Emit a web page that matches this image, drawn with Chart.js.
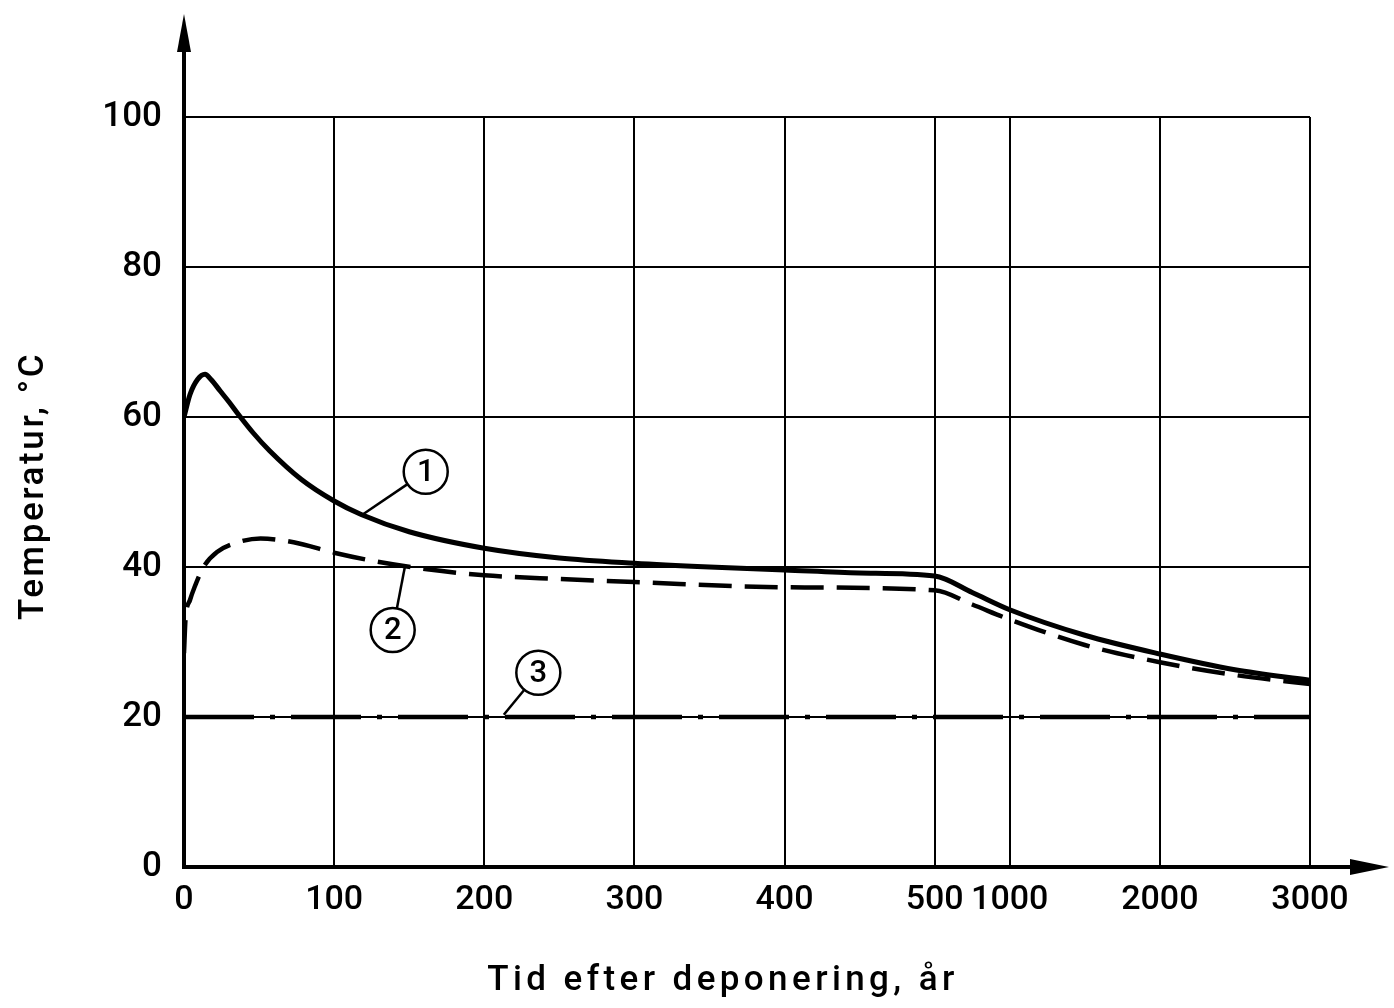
<!DOCTYPE html>
<html>
<head>
<meta charset="utf-8">
<script src="https://cdn.jsdelivr.net/npm/chart.js@4.4.0/dist/chart.umd.min.js"></script>
<style>
  html, body { margin: 0; padding: 0; background: #ffffff; }
  #wrap { width: 1394px; height: 1008px; }
</style>
</head>
<body>
<div id="wrap"><canvas id="c" width="1394" height="1008"></canvas></div>
<script>
// ---------------- data ----------------
const X_TICKS = [0, 100, 200, 300, 400, 500, 1000, 2000, 3000];
const Y_TICKS = [0, 20, 40, 60, 80, 100];

// Curve 1 (solid)
const years1 = [0, 4, 9, 14, 18, 24, 30, 36, 46, 57, 78, 100, 118, 150, 200, 250, 300, 350, 400, 450, 500, 750, 1000, 1500, 2000, 2500, 3000];
const temp1  = [60, 63.0, 65.0, 65.7, 65.0, 63.5, 62.0, 60.4, 57.9, 55.5, 51.7, 48.8, 47.0, 44.7, 42.5, 41.2, 40.5, 40.0, 39.6, 39.2, 38.8, 36.6, 34.3, 30.9, 28.4, 26.3, 24.9];

// Curve 2 (dashed)
const years2 = [0, 1, 4, 7, 13, 22, 36, 51, 73, 100, 129, 162, 200, 250, 300, 400, 500, 750, 1000, 1500, 2000, 2500, 3000];
const temp2  = [28.5, 33.0, 35.6, 37.3, 40.0, 42.0, 43.3, 43.8, 43.3, 41.9, 40.7, 39.7, 38.9, 38.4, 38.0, 37.3, 36.9, 35.0, 33.0, 29.6, 27.3, 25.6, 24.4];

// Curve 3 (dash-dot)
const years3 = [0, 3000];
const temp3  = [20, 20];

// Callout labels: circle centre and leader target, in data units (years, °C)
const CALLOUTS = [
  { text: '1', cx: 161, cy: 52.7, tx: 119, ty: 47.0 },
  { text: '2', cx: 139, cy: 31.6, tx: 147, ty: 39.9 },
  { text: '3', cx: 236, cy: 25.9, tx: 213, ty: 20.3 }
];

const X_TITLE = 'Tid efter deponering, år';
const Y_TITLE = 'Temperatur, °C';

// ---------------- broken x axis: 0–500 linear, above 500 compressed 10x ----------------
const BREAK_AT = 500, BREAK_FACTOR = 10;
function compress(t) { return t <= BREAK_AT ? t : BREAK_AT + (t - BREAK_AT) / BREAK_FACTOR; }
function expand(u) { return u <= BREAK_AT ? u : BREAK_AT + (u - BREAK_AT) * BREAK_FACTOR; }

class BrokenScale extends Chart.LinearScale {
  buildTicks() { return X_TICKS.map(v => ({ value: v })); }
  getPixelForValue(value) {
    return this.getPixelForDecimal(compress(value) / compress(this.max));
  }
  getValueForPixel(pixel) {
    return expand(this.getDecimalForPixel(pixel) * compress(this.max));
  }
}
BrokenScale.id = 'broken';
BrokenScale.defaults = Chart.LinearScale.defaults;
Chart.register(BrokenScale);

const toPoints = (xs, ys) => xs.map((x, i) => ({ x: x, y: ys[i] }));

const FONT = 'Roboto, "Liberation Sans", Arial, sans-serif';

// ---------------- decoration plugins ----------------
const axisArrows = {
  id: 'axisArrows',
  afterDraw(chart) {
    const { ctx, chartArea } = chart;
    ctx.save();
    ctx.strokeStyle = '#000';
    ctx.fillStyle = '#000';
    ctx.lineWidth = 4;
    ctx.lineCap = 'butt';
    ctx.beginPath();
    ctx.moveTo(chartArea.left, chartArea.top);
    ctx.lineTo(chartArea.left, 46);
    ctx.stroke();
    ctx.beginPath();
    ctx.moveTo(chartArea.left, 14);
    ctx.lineTo(chartArea.left - 7, 52);
    ctx.lineTo(chartArea.left + 7, 52);
    ctx.closePath();
    ctx.fill();
    ctx.beginPath();
    ctx.moveTo(chartArea.right, chartArea.bottom);
    ctx.lineTo(1356, chartArea.bottom);
    ctx.stroke();
    ctx.beginPath();
    ctx.moveTo(1389, chartArea.bottom);
    ctx.lineTo(1350, chartArea.bottom - 8);
    ctx.lineTo(1350, chartArea.bottom + 8);
    ctx.closePath();
    ctx.fill();
    ctx.restore();
  }
};

const callouts = {
  id: 'callouts',
  afterDatasetsDraw(chart) {
    const { ctx } = chart;
    const xs = chart.scales.x, ys = chart.scales.y;
    const R = 22;
    ctx.save();
    ctx.strokeStyle = '#000';
    ctx.fillStyle = '#000';
    ctx.lineWidth = 2.5;
    CALLOUTS.forEach(c => {
      const cx = xs.getPixelForValue(c.cx), cy = ys.getPixelForValue(c.cy);
      const tx = xs.getPixelForValue(c.tx), ty = ys.getPixelForValue(c.ty);
      const ang = Math.atan2(ty - cy, tx - cx);
      ctx.beginPath();
      ctx.arc(cx, cy, R, 0, Math.PI * 2);
      ctx.stroke();
      ctx.beginPath();
      ctx.moveTo(cx + R * Math.cos(ang), cy + R * Math.sin(ang));
      ctx.lineTo(tx, ty);
      ctx.stroke();
      ctx.font = '500 31px ' + FONT;
      ctx.textAlign = 'center';
      ctx.textBaseline = 'middle';
      ctx.fillText(c.text, cx, cy + 1);
    });
    ctx.restore();
  }
};

const axisTitles = {
  id: 'axisTitles',
  afterDraw(chart) {
    const { ctx } = chart;
    ctx.save();
    ctx.fillStyle = '#000';
    ctx.font = '500 35px ' + FONT;
    ctx.textAlign = 'center';
    ctx.textBaseline = 'alphabetic';
    ctx.letterSpacing = '4.4px';
    ctx.fillText(X_TITLE, 723, 990);
    ctx.letterSpacing = '2.6px';
    ctx.translate(43, 486);
    ctx.rotate(-Math.PI / 2);
    ctx.fillText(Y_TITLE, 0, 0);
    ctx.restore();
  }
};

new Chart(document.getElementById('c'), {
  type: 'line',
  data: {
    datasets: [
      {
        label: '1',
        data: toPoints(years1, temp1),
        borderColor: '#000',
        borderWidth: 5,
        pointRadius: 0,
        cubicInterpolationMode: 'monotone',
        fill: false
      },
      {
        label: '2',
        data: toPoints(years2, temp2),
        borderColor: '#000',
        borderWidth: 4.5,
        borderDash: [33, 13],
        pointRadius: 0,
        cubicInterpolationMode: 'monotone',
        fill: false
      },
      {
        label: '3',
        data: toPoints(years3, temp3),
        borderColor: '#000',
        borderWidth: 4.5,
        borderDash: [70, 16, 5, 16],
        pointRadius: 0,
        fill: false
      }
    ]
  },
  options: {
    responsive: false,
    animation: false,
    devicePixelRatio: 1,
    layout: { padding: { left: 0, top: 117, right: 84, bottom: 0 } },
    plugins: {
      legend: { display: false },
      tooltip: { enabled: false },
      title: { display: false }
    },
    scales: {
      x: {
        type: 'broken',
        min: 0,
        max: 3000,
        afterFit(scale) { scale.height = 141; },
        grid: { color: '#000', lineWidth: 2, drawTicks: false },
        border: { display: true, color: '#000', width: 4 },
        ticks: {
          autoSkip: false,
          maxRotation: 0,
          minRotation: 0,
          padding: 13,
          color: '#000',
          font: { family: FONT, size: 34, weight: '500' },
          callback: (v) => String(v)
        },
        title: { display: false }
      },
      y: {
        type: 'linear',
        min: 0,
        max: 100,
        afterFit(scale) { scale.width = 184; },
        afterBuildTicks(scale) { scale.ticks = Y_TICKS.map(v => ({ value: v })); },
        grid: { color: '#000', lineWidth: 2, drawTicks: false },
        border: { display: true, color: '#000', width: 4 },
        ticks: {
          padding: 22,
          color: '#000',
          font: { family: FONT, size: 35, weight: '500' },
          callback: (v) => String(v)
        },
        title: { display: false }
      }
    }
  },
  plugins: [callouts, axisArrows, axisTitles]
});
</script>
</body>
</html>
